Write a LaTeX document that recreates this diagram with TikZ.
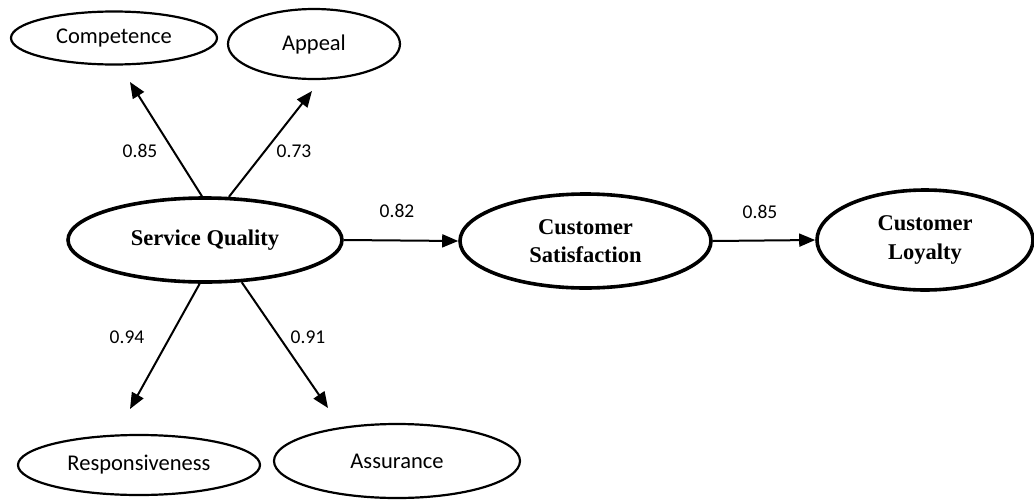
\documentclass[tikz,border=0pt]{standalone}
\usepackage{fontspec}
\setmainfont{Liberation Serif}
\newfontfamily\calib{Carlito}
\usetikzlibrary{shapes.geometric,arrows.meta}
\begin{document}
\begin{tikzpicture}[x=1pt,y=-1pt,
 small/.style={ellipse,draw,line width=2.2pt,inner sep=0pt,font=\calib\fontsize{22.5}{26}\selectfont},
 big/.style={ellipse,draw,line width=3.6pt,inner sep=0pt,align=center,font=\bfseries\fontsize{22.5}{28.5}\selectfont},
 lbl/.style={font=\calib\fontsize{19.5}{22}\selectfont,inner sep=0pt},
 arr/.style={line width=2pt,-{Triangle[length=16pt,width=13pt]}}]
\fill[white] (0,0) rectangle (1034,501);
\useasboundingbox (0,0) rectangle (1034,501);
\node[small,minimum width=206pt,minimum height=53pt] (comp) at (114,38) {Competence};
\node[small,minimum width=172pt,minimum height=70pt] (app) at (314,44) {Appeal};
\node[big,minimum width=274pt,minimum height=84pt] (sq) at (205,240) {Service Quality};
\node[big,minimum width=251pt,minimum height=94pt] (cs) at (585.5,241) {Customer\\Satisfaction};
\node[big,minimum width=216pt,minimum height=100pt] (cl) at (925,240) {Customer\\Loyalty};
\node[small,minimum width=242pt,minimum height=60pt] (resp) at (139,465) {Responsiveness};
\node[small,minimum width=246pt,minimum height=74pt] (assu) at (397,461) {Assurance};
\coordinate (tc) at (130,82);
\coordinate (ta) at (312,91);
\coordinate (tr) at (130,409);
\coordinate (tas) at (328,408);
\draw[arr] (sq.94) -- (tc);
\draw[arr] (sq.61) -- (ta);
\draw[arr] (sq.263) -- (tr);
\draw[arr] (sq.311) -- (tas);
\draw[arr] (sq.east) -- (cs.west);
\draw[arr] (cs.east) -- (cl.west);
\node[lbl] (l1) at (140,151) {0.85};
\node[lbl] (l2) at (294,151) {0.73};
\node[lbl] (l3) at (127,337) {0.94};
\node[lbl] (l4) at (308,337) {0.91};
\node[lbl] (l5) at (397,211) {0.82};
\node[lbl] (l6) at (760,212) {0.85};
\end{tikzpicture}
\end{document}
